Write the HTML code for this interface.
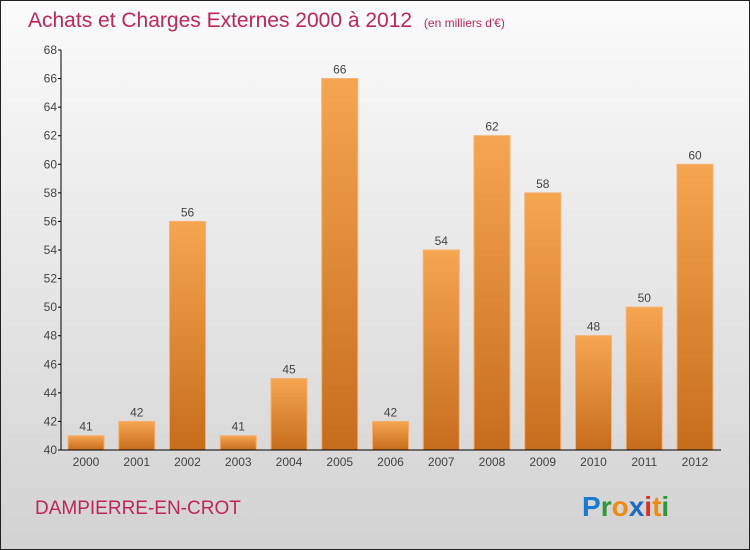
<!DOCTYPE html>
<html><head><meta charset="utf-8"><style>
body{margin:0;}
#wrap{width:750px;height:550px;position:relative;overflow:hidden;font-family:"Liberation Sans",sans-serif;}
</style></head><body>
<div id="wrap">
<svg id="svg" width="750" height="550" xmlns="http://www.w3.org/2000/svg">
<defs>
<linearGradient id="bg" x1="0" y1="0" x2="0" y2="1"><stop offset="0" stop-color="#fbfbfb"/><stop offset="1" stop-color="#d2d2d2"/></linearGradient>
<linearGradient id="bar" x1="0" y1="0" x2="0" y2="1"><stop offset="0" stop-color="#f6a550"/><stop offset="1" stop-color="#c66d1c"/></linearGradient>
</defs>
<rect x="0.5" y="0.5" width="749" height="549" fill="url(#bg)" stroke="#222"/>
<text x="28" y="27" font-size="21" fill="#c0255a">Achats et Charges Externes 2000 à 2012 <tspan font-size="12" dx="6">(en milliers d'€)</tspan></text>
<text x="35" y="514" font-size="19" fill="#c0255a">DAMPIERRE-EN-CROT</text>
<g id="logo" font-size="28" font-weight="bold">
<text x="582" y="516"><tspan fill="#1a7ad0">P</tspan><tspan fill="#2a9a3a">r</tspan><tspan fill="#f08a10">o</tspan><tspan fill="#1a6ac8">x</tspan><tspan fill="#e03020">i</tspan><tspan fill="#f08a10">t</tspan><tspan fill="#2a9a3a">i</tspan></text>
</g>
<g id="plot"></g>
</svg>
</div>
<script>
const categories=["2000","2001","2002","2003","2004","2005","2006","2007","2008","2009","2010","2011","2012"];
const values=[41,42,56,41,45,66,42,54,62,58,48,50,60];
const yTicks=[40,42,44,46,48,50,52,54,56,58,60,62,64,66,68];
const yMin=40,yMax=68,plotTop=50,plotBottom=450,x0=61,step=50.75,bw=36;
const y=v=>plotBottom-(v-yMin)/(yMax-yMin)*(plotBottom-plotTop);
const xc=i=>86+i*step;
const ns="http://www.w3.org/2000/svg";
const g=document.getElementById('plot');
function mk(t,a){const e=document.createElementNS(ns,t);for(const k in a)e.setAttribute(k,a[k]);g.appendChild(e);return e;}
values.forEach((v,i)=>{
 const r=mk('rect',{x:xc(i)-bw/2,y:y(v),width:bw,height:plotBottom-y(v),fill:'url(#bar)',stroke:'#f7b070','stroke-width':1});
 
 
 const t=mk('text',{x:xc(i),y:y(v)-5,'text-anchor':'middle','font-size':12,fill:'#444'});t.textContent=v;
 
 
 const c=mk('text',{x:xc(i),y:466,'text-anchor':'middle','font-size':12,fill:'#444'});c.textContent=categories[i];
 
 
});
yTicks.forEach(v=>{
 mk('line',{x1:x0-3,x2:x0,y1:y(v),y2:y(v),stroke:'#000'});
 const t=mk('text',{x:x0-4,y:y(v)+4,'text-anchor':'end','font-size':12,fill:'#444'});t.textContent=v;
 
 
});
const ya=mk('line',{x1:x0,x2:x0,y1:plotTop,y2:plotBottom,stroke:'#000'});


const xa=mk('line',{x1:x0,x2:721,y1:plotBottom,y2:plotBottom,stroke:'#000'});


</script>
</body></html>
